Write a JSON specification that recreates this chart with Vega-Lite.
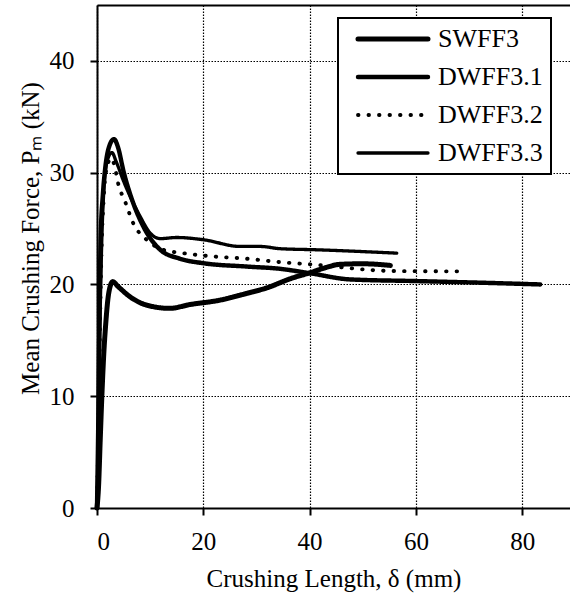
{
  "$schema": "https://vega.github.io/schema/vega-lite/v6.json",
  "width": 473,
  "height": 503,
  "padding": {"left": 97, "top": 5, "right": 0, "bottom": 93},
  "autosize": {"type": "none"},
  "background": "white",
  "config": {
    "font": "Liberation Serif",
    "view": {"stroke": null},
    "axis": {
      "labelFont": "Liberation Serif",
      "titleFont": "Liberation Serif",
      "labelFontSize": 25,
      "titleFontSize": 25,
      "titleFontWeight": "normal",
      "labelColor": "black",
      "titleColor": "black",
      "domainColor": "black",
      "domainWidth": 2,
      "tickColor": "black",
      "tickWidth": 2,
      "tickSize": 7,
      "gridColor": "black",
      "gridDash": [1.5, 1.5],
      "gridWidth": 1.2,
      "gridOpacity": 1
    },
    "legend": {
      "title": null,
      "orient": "none",
      "legendX": 241,
      "legendY": 13,
      "symbolType": "M-5,0H5",
      "symbolSize": 196,
      "symbolStrokeColor": "black",
      "labelFontSize": 26,
      "labelFont": "Liberation Serif",
      "labelColor": "black",
      "padding": 8,
      "strokeColor": "black",
      "fillColor": "white",
      "rowPadding": 12,
      "symbolOffset": 34,
      "labelOffset": 32
    }
  },
  "data": {
    "values": [
      {"series": "SWFF3", "x": 0, "y": 0},
      {"series": "SWFF3", "x": 0.3, "y": 2},
      {"series": "SWFF3", "x": 0.6, "y": 6},
      {"series": "SWFF3", "x": 0.94, "y": 10.3},
      {"series": "SWFF3", "x": 1.3, "y": 14},
      {"series": "SWFF3", "x": 1.6, "y": 16.2},
      {"series": "SWFF3", "x": 2.2, "y": 19.2},
      {"series": "SWFF3", "x": 2.95, "y": 20.25},
      {"series": "SWFF3", "x": 4, "y": 19.8},
      {"series": "SWFF3", "x": 6.2, "y": 18.9},
      {"series": "SWFF3", "x": 9.35, "y": 18.15},
      {"series": "SWFF3", "x": 13.7, "y": 17.86},
      {"series": "SWFF3", "x": 17.5, "y": 18.2},
      {"series": "SWFF3", "x": 23.2, "y": 18.6},
      {"series": "SWFF3", "x": 28.2, "y": 19.2},
      {"series": "SWFF3", "x": 32, "y": 19.7},
      {"series": "SWFF3", "x": 36.3, "y": 20.5},
      {"series": "SWFF3", "x": 40.1, "y": 21.05},
      {"series": "SWFF3", "x": 43, "y": 21.5},
      {"series": "SWFF3", "x": 45.7, "y": 21.8},
      {"series": "SWFF3", "x": 50, "y": 21.85},
      {"series": "SWFF3", "x": 55.2, "y": 21.7},

      {"series": "DWFF3.1", "x": 0, "y": 0},
      {"series": "DWFF3.1", "x": 0.25, "y": 8},
      {"series": "DWFF3.1", "x": 0.45, "y": 16.8},
      {"series": "DWFF3.1", "x": 0.7, "y": 24.3},
      {"series": "DWFF3.1", "x": 1.1, "y": 28},
      {"series": "DWFF3.1", "x": 1.5, "y": 30.2},
      {"series": "DWFF3.1", "x": 2.2, "y": 32.2},
      {"series": "DWFF3.1", "x": 3.2, "y": 33.0},
      {"series": "DWFF3.1", "x": 4.0, "y": 32.2},
      {"series": "DWFF3.1", "x": 4.95, "y": 30.2},
      {"series": "DWFF3.1", "x": 6.8, "y": 27.3},
      {"series": "DWFF3.1", "x": 8.7, "y": 25.2},
      {"series": "DWFF3.1", "x": 11.9, "y": 23.1},
      {"series": "DWFF3.1", "x": 15.6, "y": 22.3},
      {"series": "DWFF3.1", "x": 20, "y": 21.9},
      {"series": "DWFF3.1", "x": 28.2, "y": 21.6},
      {"series": "DWFF3.1", "x": 34.4, "y": 21.4},
      {"series": "DWFF3.1", "x": 40.1, "y": 21.0},
      {"series": "DWFF3.1", "x": 47.6, "y": 20.45},
      {"series": "DWFF3.1", "x": 60.2, "y": 20.3},
      {"series": "DWFF3.1", "x": 72.7, "y": 20.15},
      {"series": "DWFF3.1", "x": 83.4, "y": 20.0},

      {"series": "DWFF3.2", "x": 0, "y": 0},
      {"series": "DWFF3.2", "x": 0.3, "y": 8},
      {"series": "DWFF3.2", "x": 0.55, "y": 16},
      {"series": "DWFF3.2", "x": 0.85, "y": 23},
      {"series": "DWFF3.2", "x": 1.3, "y": 28},
      {"series": "DWFF3.2", "x": 1.9, "y": 30.6},
      {"series": "DWFF3.2", "x": 2.7, "y": 31.3},
      {"series": "DWFF3.2", "x": 3.3, "y": 30.6},
      {"series": "DWFF3.2", "x": 4, "y": 29},
      {"series": "DWFF3.2", "x": 5.3, "y": 27.4},
      {"series": "DWFF3.2", "x": 6.8, "y": 25.5},
      {"series": "DWFF3.2", "x": 9.35, "y": 24},
      {"series": "DWFF3.2", "x": 12.5, "y": 23.1},
      {"series": "DWFF3.2", "x": 16.2, "y": 22.8},
      {"series": "DWFF3.2", "x": 21.9, "y": 22.5},
      {"series": "DWFF3.2", "x": 28.2, "y": 22.3},
      {"series": "DWFF3.2", "x": 34.4, "y": 22.0},
      {"series": "DWFF3.2", "x": 40.1, "y": 21.8},
      {"series": "DWFF3.2", "x": 55.8, "y": 21.2},
      {"series": "DWFF3.2", "x": 69.6, "y": 21.17},

      {"series": "DWFF3.3", "x": 0, "y": 0},
      {"series": "DWFF3.3", "x": 0.3, "y": 8},
      {"series": "DWFF3.3", "x": 0.55, "y": 16},
      {"series": "DWFF3.3", "x": 0.85, "y": 23},
      {"series": "DWFF3.3", "x": 1.3, "y": 28.5},
      {"series": "DWFF3.3", "x": 1.9, "y": 31},
      {"series": "DWFF3.3", "x": 2.8, "y": 31.8},
      {"series": "DWFF3.3", "x": 3.6, "y": 31},
      {"series": "DWFF3.3", "x": 4.95, "y": 29.3},
      {"series": "DWFF3.3", "x": 8.1, "y": 26.1},
      {"series": "DWFF3.3", "x": 10, "y": 24.6},
      {"series": "DWFF3.3", "x": 11.9, "y": 24.1},
      {"series": "DWFF3.3", "x": 15, "y": 24.2},
      {"series": "DWFF3.3", "x": 20, "y": 24.0},
      {"series": "DWFF3.3", "x": 26.9, "y": 23.4},
      {"series": "DWFF3.3", "x": 30.7, "y": 23.4},
      {"series": "DWFF3.3", "x": 34.4, "y": 23.2},
      {"series": "DWFF3.3", "x": 41.4, "y": 23.1},
      {"series": "DWFF3.3", "x": 56.4, "y": 22.8}
    ]
  },
  "layer": [
    {
      "mark": {"type": "line", "interpolate": "monotone", "color": "black", "strokeCap": "round", "strokeJoin": "round"},
      "encoding": {
        "x": {
          "field": "x", "type": "quantitative",
          "scale": {"domain": [0, 89], "nice": false, "zero": false},
          "axis": {"title": "Crushing Length, δ (mm)", "values": [0, 20, 40, 60, 80], "grid": true, "labelPadding": 14, "titlePadding": 12, "orient": "bottom"}
        },
        "y": {
          "field": "y", "type": "quantitative",
          "scale": {"domain": [0, 45], "nice": false},
          "axis": {"title": "Mean Crushing Force, Pₘ (kN)", "values": [0, 10, 20, 30, 40], "grid": true, "labelPadding": 16, "titlePadding": 6, "titleY": 233}
        },
        "strokeDash": {
          "field": "series", "type": "ordinal",
          "scale": {"domain": ["SWFF3", "DWFF3.1", "DWFF3.2", "DWFF3.3"], "range": [[1, 0], [1, 0], [0.5, 10], [1, 0]]},
          "legend": {"encode": {"symbols": {"update": {"strokeCap": {"value": "round"}}}, "legend": {"update": {"strokeWidth": {"value": 2}}}}}
        },
        "strokeWidth": {
          "field": "series", "type": "ordinal",
          "scale": {"domain": ["SWFF3", "DWFF3.1", "DWFF3.2", "DWFF3.3"], "range": [5, 3.3, 5.2, 1.8]},
          "legend": {"encode": {"symbols": {"update": {"strokeCap": {"value": "round"}}}, "legend": {"update": {"strokeWidth": {"value": 2}}}}}
        }
      }
    },
    {
      "mark": {"type": "point", "opacity": 0},
      "encoding": {
        "x": {
          "field": "x", "type": "quantitative",
          "axis": {"orient": "top", "labels": false, "ticks": false, "grid": false, "domain": true, "title": null}
        }
      }
    }
  ],
  "resolve": {"axis": {"x": "independent"}}
}
